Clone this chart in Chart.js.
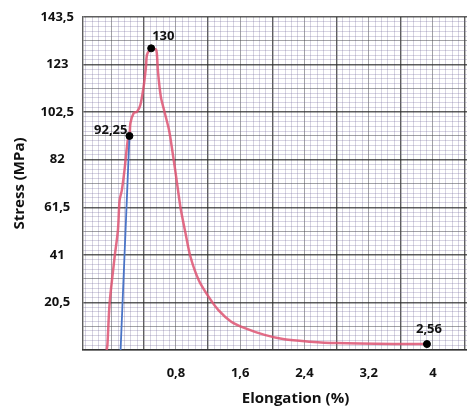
<!DOCTYPE html>
<html>
<head>
<meta charset="utf-8">
<script src="https://cdn.jsdelivr.net/npm/chart.js@4/dist/chart.umd.min.js"></script>
<style>
  html, body { margin: 0; padding: 0; background: #fff; overflow: hidden; }
  #wrap { width: 467px; height: 410px; overflow: hidden; }
</style>
</head>
<body>
<div id="wrap"><canvas id="chart-stress" width="513" height="410"></canvas></div>
<script>
// red stress / elongation curve
const curveX = [-0.062, -0.053, -0.025, 0.037, 0.078, 0.099, 0.127, 0.160, 0.201, 0.222, 0.234, 0.274, 0.316, 0.357, 0.398, 0.427, 0.439, 0.468, 0.505, 0.550, 0.562, 0.578, 0.612, 0.652, 0.714, 0.754, 0.796, 0.843, 0.862, 0.919, 0.981, 1.083, 1.206, 1.329, 1.489, 1.658, 1.904, 2.150, 2.474, 2.806, 3.508, 3.926];
const curveY = [0, 2.2, 20.3, 40.1, 51.7, 64.6, 68.9, 77.6, 90.5, 92.2, 97.8, 102.1, 102.7, 105.6, 113.5, 122.1, 127.1, 129.0, 129.6, 129.6, 128.0, 119.4, 109.2, 103.4, 94.8, 86.2, 76.3, 64.6, 60.3, 50.4, 40.2, 30.2, 23.0, 17.2, 12.2, 9.4, 6.5, 4.6, 3.6, 3.0, 2.6, 2.56];

// blue elastic line
const elasticX = [0.111, 0.2215];
const elasticY = [0, 92.25];

// marked points
const markX = [0.2215, 0.492, 3.926];
const markY = [92.25, 130, 2.56];
const markLabels = ['92,25', '130', '2,56'];

// axis tick labels
const xTickValues = [0.8, 1.6, 2.4, 3.2, 4];
const xTickLabels = ['0,8', '1,6', '2,4', '3,2', '4'];
const yTickValues = [20.5, 41, 61.5, 82, 102.5, 123, 143.5];
const yTickLabels = ['20,5', '41', '61,5', '82', '102,5', '123', '143,5'];

const X_MIN = -0.357, X_MAX = 4.935, X_STEP = 0.08;
const Y_MIN = 0, Y_MAX = 143.5, Y_STEP = 2.05;

const FONT = '"Open Sans", sans-serif';

function toPoints(xs, ys) {
  return xs.map((x, i) => ({ x: x, y: ys[i] }));
}

function findLabel(value, values, labels) {
  for (let i = 0; i < values.length; i++) {
    if (Math.abs(values[i] - value) < 1e-6) return labels[i];
  }
  return '';
}

// graph paper: fine lines every step, medium every 5, dark every 10
function paperTicks(min, max, step) {
  const ticks = [];
  for (let k = Math.ceil(min / step - 1e-9); k * step <= max + 1e-9; k++) {
    ticks.push({ value: +(k * step).toFixed(4) });
  }
  return ticks;
}

function gridLevel(value, step, darkOffset) {
  const k = Math.round(value / step) - darkOffset;
  const m = ((k % 10) + 10) % 10;
  if (m === 0) return 2;
  if (m === 5) return 1;
  return 0;
}

// semi transparent so the fine lines do not cut through the dark ones
const gridColors = ['rgba(110, 100, 150, 0.28)', 'rgba(70, 70, 75, 0.5)', 'rgba(40, 40, 40, 0.75)'];
const gridWidths = [1, 1, 1.4];

const labelPlacement = [
  { align: 'right', dx: -2, dy: -6 },
  { align: 'left', dx: 1, dy: -12 },
  { align: 'center', dx: 2, dy: -15 }
];

const pointLabels = {
  id: 'pointLabels',
  afterDatasetsDraw(chart) {
    const meta = chart.getDatasetMeta(2);
    const c = chart.ctx;
    c.save();
    c.font = 'bold 13px ' + FONT;
    c.fillStyle = '#111';
    c.textBaseline = 'middle';
    meta.data.forEach((pt, i) => {
      const p = labelPlacement[i];
      c.textAlign = p.align;
      c.fillText(markLabels[i], pt.x + p.dx, pt.y + p.dy);
    });
    c.restore();
  }
};

const ctx = document.getElementById('chart-stress').getContext('2d');
new Chart(ctx, {
  type: 'scatter',
  data: {
    datasets: [
      {
        label: 'Stress',
        data: toPoints(curveX, curveY),
        showLine: true,
        borderColor: 'rgba(222, 84, 114, 0.85)',
        borderWidth: 2.5,
        pointRadius: 0,
        tension: 0.3,
        order: 2
      },
      {
        label: 'Elastic',
        data: toPoints(elasticX, elasticY),
        showLine: true,
        borderColor: '#4a74c6',
        borderWidth: 1.8,
        pointRadius: 0,
        order: 1
      },
      {
        label: 'Points',
        data: toPoints(markX, markY),
        showLine: false,
        pointRadius: 3.5,
        pointBackgroundColor: '#000',
        pointBorderColor: '#000',
        order: 0
      }
    ]
  },
  options: {
    responsive: false,
    animation: false,
    layout: { padding: { top: 17, left: 0, right: 0, bottom: 0 } },
    plugins: {
      legend: { display: false },
      tooltip: { enabled: false }
    },
    scales: {
      x: {
        type: 'linear',
        min: X_MIN,
        max: X_MAX,
        afterBuildTicks: (scale) => { scale.ticks = paperTicks(X_MIN, X_MAX, X_STEP); },
        afterFit: (scale) => {
          scale.height = 60;
          scale.paddingLeft = 0;
          scale.paddingRight = 0;
        },
        grid: {
          drawTicks: false,
          color: (c) => gridColors[gridLevel(c.tick.value, X_STEP, 5)],
          lineWidth: (c) => gridWidths[gridLevel(c.tick.value, X_STEP, 5)]
        },
        border: { display: true, color: 'rgba(40, 40, 40, 0.75)', width: 1.4 },
        ticks: {
          autoSkip: false,
          maxRotation: 0,
          minRotation: 0,
          padding: 15,
          color: '#111',
          font: { family: FONT, size: 13, weight: 'bold' },
          callback: (v) => findLabel(v, xTickValues, xTickLabels)
        },
        title: {
          display: true,
          text: 'Elongation (%)',
          color: '#111',
          font: { family: FONT, size: 15, weight: 'bold' },
          padding: { top: 9, bottom: 2 }
        }
      },
      y: {
        type: 'linear',
        min: Y_MIN,
        max: Y_MAX,
        afterBuildTicks: (scale) => { scale.ticks = paperTicks(Y_MIN, Y_MAX, Y_STEP); },
        afterFit: (scale) => { scale.width = 83; },
        grid: {
          drawTicks: false,
          color: (c) => gridColors[gridLevel(c.tick.value, Y_STEP, 0)],
          lineWidth: (c) => gridWidths[gridLevel(c.tick.value, Y_STEP, 0)]
        },
        border: { display: true, color: 'rgba(40, 40, 40, 0.75)', width: 1.4 },
        ticks: {
          autoSkip: false,
          crossAlign: 'center',
          padding: 9,
          color: '#111',
          font: { family: FONT, size: 13, weight: 'bold' },
          callback: (v) => findLabel(v, yTickValues, yTickLabels)
        },
        title: {
          display: true,
          text: 'Stress (MPa)',
          color: '#111',
          font: { family: FONT, size: 15, weight: 'bold' },
          padding: { top: 11, bottom: 9 }
        }
      }
    }
  },
  plugins: [pointLabels]
});
</script>
</body>
</html>
